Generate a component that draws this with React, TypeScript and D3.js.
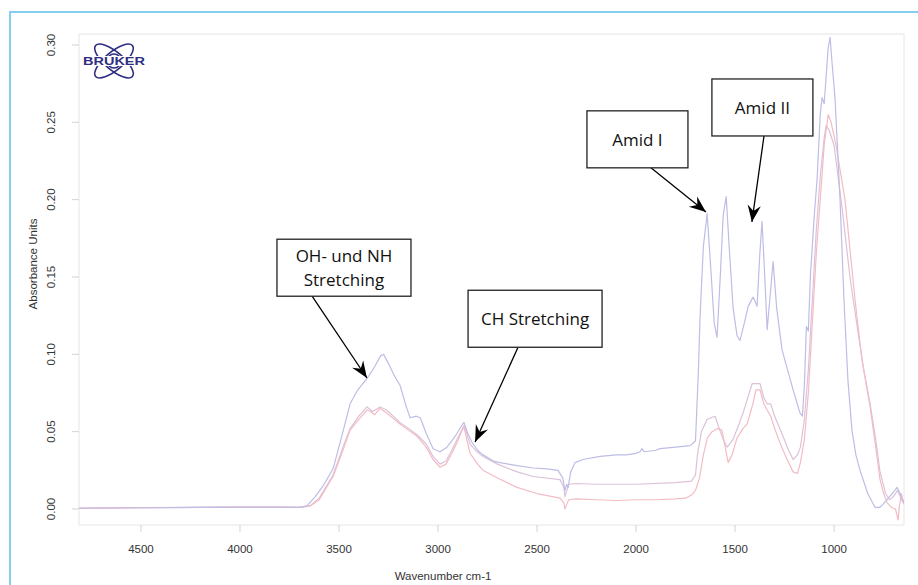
import React from "react";
import * as d3 from "d3";

// ---- data ----
const xTicks = [4500, 4000, 3500, 3000, 2500, 2000, 1500, 1000];
const yTicks = [0, 0.05, 0.1, 0.15, 0.2, 0.25, 0.3];

const blueWn = [4813, 4500, 4200, 4000, 3800, 3700, 3662, 3620, 3580, 3530, 3480, 3444, 3410, 3380, 3355, 3320, 3290, 3275, 3250, 3220, 3192, 3160, 3141, 3110, 3090, 3060, 3025, 2990, 2955, 2925, 2904, 2880, 2869, 2850, 2828, 2800, 2773, 2720, 2687, 2600, 2520, 2450, 2394, 2370, 2359, 2350, 2343, 2330, 2308, 2268, 2182, 2100, 2050, 2000, 1980, 1970, 1960, 1900, 1879, 1800, 1727, 1700, 1685, 1677, 1660, 1641, 1625, 1605, 1591, 1575, 1560, 1545, 1530, 1510, 1490, 1475, 1450, 1434, 1409, 1395, 1389, 1375, 1364, 1350, 1338, 1325, 1308, 1290, 1263, 1235, 1207, 1172, 1160, 1150, 1140, 1130, 1120, 1100, 1086, 1070, 1061, 1050, 1040, 1030, 1020, 1010, 995, 970, 950, 930, 910, 890, 869, 830, 793, 770, 753, 720, 700, 682, 667, 655, 647];
const blueAbs = [0.0005, 0.0008, 0.001, 0.0012, 0.0012, 0.001, 0.002, 0.008, 0.015, 0.026, 0.05, 0.068, 0.076, 0.081, 0.085, 0.092, 0.099, 0.1, 0.094, 0.086, 0.08, 0.066, 0.059, 0.06, 0.059, 0.049, 0.039, 0.037, 0.04, 0.045, 0.049, 0.054, 0.056, 0.049, 0.043, 0.038, 0.035, 0.031, 0.03, 0.028, 0.0265, 0.026, 0.025, 0.02, 0.012, 0.016, 0.014, 0.024, 0.03, 0.032, 0.034, 0.035, 0.035, 0.036, 0.037, 0.039, 0.037, 0.038, 0.039, 0.04, 0.041, 0.044, 0.09, 0.124, 0.17, 0.191, 0.16, 0.12, 0.111, 0.15, 0.19, 0.202, 0.17, 0.13, 0.112, 0.109, 0.122, 0.131, 0.137, 0.133, 0.131, 0.165, 0.186, 0.15, 0.116, 0.135, 0.16, 0.13, 0.103, 0.09, 0.077, 0.062, 0.06, 0.08, 0.118, 0.115, 0.15, 0.19, 0.213, 0.255, 0.266, 0.262, 0.28, 0.298, 0.305, 0.288, 0.265, 0.2, 0.135, 0.083, 0.051, 0.035, 0.025, 0.01, 0.001, 0.001, 0.003, 0.008, 0.011, 0.014, 0.01, 0.005, 0.004];

const midWn = [4813, 4500, 4200, 4000, 3800, 3700, 3646, 3600, 3530, 3480, 3444, 3400, 3359, 3330, 3293, 3260, 3192, 3106, 3060, 3025, 2990, 2960, 2930, 2904, 2869, 2838, 2803, 2773, 2700, 2600, 2520, 2384, 2365, 2359, 2350, 2340, 2300, 2200, 2000, 1800, 1720, 1700, 1690, 1670, 1641, 1601, 1580, 1560, 1540, 1510, 1480, 1460, 1414, 1374, 1355, 1338, 1320, 1300, 1258, 1230, 1207, 1185, 1170, 1150, 1130, 1110, 1090, 1070, 1050, 1040, 1025, 1000, 960, 920, 880, 850, 818, 790, 768, 740, 720, 700, 680, 665, 647];
const midAbs = [0.0006, 0.0009, 0.001, 0.0012, 0.0012, 0.001, 0.002, 0.007, 0.022, 0.04, 0.052, 0.06, 0.066, 0.063, 0.066, 0.064, 0.056, 0.048, 0.042, 0.034, 0.029, 0.031, 0.038, 0.045, 0.054, 0.042, 0.037, 0.034, 0.029, 0.024, 0.021, 0.019, 0.014, 0.008, 0.012, 0.016, 0.0165, 0.016, 0.016, 0.017, 0.018, 0.022, 0.035, 0.05, 0.058, 0.06, 0.052, 0.045, 0.04, 0.045, 0.055, 0.062, 0.081, 0.081, 0.072, 0.068, 0.068, 0.06, 0.047, 0.038, 0.032, 0.035, 0.04, 0.058, 0.09, 0.135, 0.18, 0.215, 0.24, 0.248, 0.245, 0.235, 0.195, 0.15, 0.115, 0.09, 0.068, 0.045, 0.024, 0.01, 0.006, 0.008, 0.012, 0.008, 0.005];

const redWn = [4813, 4500, 4200, 4000, 3800, 3700, 3646, 3600, 3530, 3480, 3444, 3400, 3359, 3340, 3320, 3293, 3270, 3230, 3192, 3150, 3106, 3060, 3025, 2990, 2960, 2930, 2904, 2885, 2869, 2855, 2838, 2800, 2773, 2700, 2601, 2500, 2384, 2365, 2359, 2350, 2340, 2300, 2200, 2100, 2000, 1900, 1800, 1750, 1720, 1700, 1680, 1660, 1640, 1616, 1590, 1566, 1550, 1535, 1515, 1490, 1460, 1439, 1410, 1395, 1374, 1355, 1338, 1320, 1300, 1280, 1258, 1230, 1207, 1185, 1170, 1150, 1130, 1110, 1090, 1070, 1050, 1030, 1015, 990, 945, 894, 859, 818, 790, 768, 750, 732, 710, 690, 677, 670, 660, 652, 647];
const redAbs = [0.0005, 0.0008, 0.001, 0.0012, 0.0012, 0.001, 0.002, 0.006, 0.021, 0.038, 0.051, 0.058, 0.064, 0.063, 0.061, 0.065, 0.063, 0.059, 0.055, 0.051, 0.047, 0.04, 0.032, 0.027, 0.029, 0.036, 0.043, 0.049, 0.053, 0.045, 0.036, 0.029, 0.025, 0.02, 0.014, 0.01, 0.007, 0.004, 0.0, 0.003, 0.006, 0.0065, 0.006, 0.0055, 0.006, 0.006, 0.0065, 0.007, 0.009, 0.012, 0.02, 0.035, 0.046, 0.05, 0.052, 0.051, 0.04, 0.03, 0.035, 0.046, 0.052, 0.055, 0.068, 0.077, 0.077, 0.068, 0.064, 0.06, 0.052, 0.045, 0.038, 0.03, 0.024, 0.023, 0.03, 0.045, 0.075, 0.12, 0.165, 0.2, 0.235, 0.255, 0.25, 0.235, 0.2, 0.135, 0.096, 0.066, 0.04, 0.019, 0.01, 0.004, 0.001, 0.0, -0.007, 0.002, 0.01, 0.005, 0.003];

const seriesNames = ["Probe A", "Probe B", "Probe C"];
const seriesColors = ["#dcc2d8", "#f3bcc4", "#bdbde6"];

const annLabels = [["OH- und NH", "Stretching"], ["CH Stretching"], ["Amid I"], ["Amid II"]];
const annBoxWn = [3475, 2510, 1993, 1362];
const annBoxAbs = [0.156, 0.123, 0.239, 0.2596];
const annBoxW = [134, 134, 101, 101];
const annTailWn = [3636, 2596, 1925, 1354];
const annTipWn = [3359, 2813, 1647, 1415];
const annTipAbs = [0.0847, 0.0433, 0.192, 0.1856];

export default function App() {
  const W = 918, H = 585;
  const x = d3.scaleLinear().domain([4813, 647]).range([79, 904]);
  const y = d3.scaleLinear().domain([-0.01034, 0.3071]).range([525, 34]);
  const line = d3
    .line<[number, number]>()
    .x((d) => x(d[0]))
    .y((d) => y(d[1]))
    .curve(d3.curveLinear);

  const series = [
    { name: seriesNames[0], color: seriesColors[0], wn: midWn, abs: midAbs },
    { name: seriesNames[1], color: seriesColors[1], wn: redWn, abs: redAbs },
    { name: seriesNames[2], color: seriesColors[2], wn: blueWn, abs: blueAbs },
  ];

  const boxH = 57;
  const tickFont = "'Liberation Sans', Arial, sans-serif";
  const annFont = "'Open Sans', 'Noto Sans', sans-serif";

  return (
    <svg
      width={W}
      height={H}
      style={{ position: "absolute", left: 0, top: 0, background: "#fff" }}
      fontFamily={tickFont}
    >
      <defs>
        <marker
          id="arrowHead"
          markerUnits="userSpaceOnUse"
          markerWidth={20}
          markerHeight={20}
          viewBox="-16 -8 18 16"
          refX={0}
          refY={0}
          orient="auto"
        >
          <path d="M0,0 L-15,-6 L-10,0 L-15,6 Z" fill="#000" />
        </marker>
        <clipPath id="plotClip">
          <rect x={79} y={34} width={825} height={491} />
        </clipPath>
      </defs>
      <rect x={0} y={0} width={W} height={H} fill="#fff" />
      {/* outer frame */}
      <rect x={10} y={12} width={940} height={620} fill="none" stroke="#86cdef" strokeWidth={2} />

      {/* plot box */}
      <rect x={79} y={34} width={825} height={491} fill="none" stroke="#e6e6e6" strokeWidth={1} />

      {/* y axis */}
      {yTicks.map((t) => (
        <g key={"y" + t}>
          <line x1={72} x2={79} y1={y(t)} y2={y(t)} stroke="#d2d2d2" />
          <text
            transform={`translate(${51},${y(t)}) rotate(-90)`}
            textAnchor="middle"
            dominantBaseline="central"
            fontSize={11.5}
            fill="#333"
          >
            {t.toFixed(2)}
          </text>
        </g>
      ))}
      <text
        transform={`translate(33,264) rotate(-90)`}
        textAnchor="middle"
        dominantBaseline="central"
        fontSize={11.5}
        fill="#333"
      >
        Absorbance Units
      </text>

      {/* x axis */}
      {xTicks.map((t) => (
        <g key={"x" + t}>
          <line x1={x(t)} x2={x(t)} y1={525} y2={532} stroke="#d2d2d2" />
          <text x={x(t)} y={553} textAnchor="middle" fontSize={11.5} fill="#333">
            {t}
          </text>
        </g>
      ))}
      <text x={443} y={580} textAnchor="middle" fontSize={11.5} fill="#333">
        Wavenumber cm-1
      </text>

      {/* spectra */}
      <g clipPath="url(#plotClip)">
        {series.map((s) => (
          <path
            key={s.name}
            d={line(s.wn.map((w, i) => [w, s.abs[i]] as [number, number])) || ""}
            fill="none"
            stroke={s.color}
            strokeWidth={1.2}
            strokeLinejoin="round"
          />
        ))}
      </g>

      {/* logo */}
      <g transform="translate(114,61)" stroke="#2e2e82" fill="none" strokeWidth={1.6}>
        <ellipse rx={24} ry={9} transform="rotate(40)" />
        <ellipse rx={24} ry={9} transform="rotate(-40)" />
        <circle r={7} />
        <rect x={-31} y={-5} width={62} height={10} fill="#fff" stroke="none" />
        <text
          x={0}
          y={0}
          textAnchor="middle"
          dominantBaseline="central"
          fontSize={10}
          fontWeight="bold"
          fill="#2e2e82"
          stroke="none"
          textLength={62}
          lengthAdjust="spacingAndGlyphs"
          fontFamily="'Liberation Sans', Arial, sans-serif"
        >
          BRUKER
        </text>
      </g>

      {/* annotations */}
      {annLabels.map((lines, i) => {
        const cx = x(annBoxWn[i]);
        const cy = y(annBoxAbs[i]);
        const bw = annBoxW[i];
        const top = cy - boxH / 2;
        const lh = 24;
        return (
          <g key={"ann" + i}>
            <line
              x1={x(annTailWn[i])}
              y1={top + boxH}
              x2={x(annTipWn[i])}
              y2={y(annTipAbs[i])}
              stroke="#000"
              strokeWidth={1.3}
              markerEnd="url(#arrowHead)"
            />
            <rect x={cx - bw / 2} y={top} width={bw} height={boxH} fill="#fff" stroke="#222" strokeWidth={1.3} />
            {lines.map((l, j) => (
              <text
                key={j}
                x={cx}
                y={cy + (j - (lines.length - 1) / 2) * lh}
                textAnchor="middle"
                dominantBaseline="central"
                fontSize={17}
                fontFamily={annFont}
                fill="#111"
              >
                {l}
              </text>
            ))}
          </g>
        );
      })}
    </svg>
  );
}
